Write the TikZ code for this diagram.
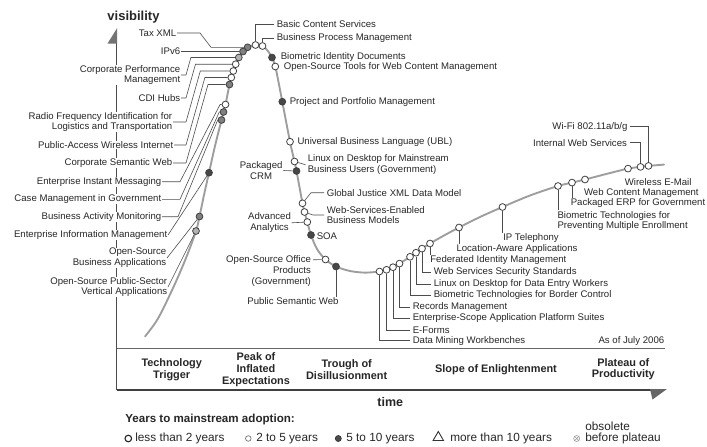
\documentclass[tikz,border=0pt]{standalone}
\usepackage{fontspec}
\setmainfont{Liberation Sans}
\usetikzlibrary{shapes.geometric}
\begin{document}
\begin{tikzpicture}[x=1pt,y=-1pt,
  every node/.style={inner sep=0.6pt, text=black!85},
  lbl/.style={font=\fontsize{9.6}{10.8}\selectfont},
  lft/.style={lbl, anchor=east, align=right, fill=white},
  rgt/.style={lbl, anchor=west, align=left},
  phase/.style={font=\fontsize{10.9}{11.9}\selectfont\bfseries, align=center},
  keytext/.style={font=\fontsize{11.8}{13}\selectfont, anchor=west},
  leader/.style={draw=black!70, line width=0.6pt},
  hype/.style={draw=black!38, line width=1.9pt, line cap=round},
  bub/.style={circle, draw=black!75, line width=0.8pt, minimum size=6.8pt, inner sep=0pt},
  ptW/.style={bub, fill=white},
  ptL/.style={bub, fill=black!30},
  ptM/.style={bub, fill=black!50},
  ptD/.style={bub, fill=black!72},
]
\useasboundingbox (0,0) rectangle (707,447);

% axes and phase band
\draw[black!70, line width=0.9pt] (116.5,43) -- (116.5,390);
\fill[black!55] (117.2,28) -- (117.2,43.5) -- (107.5,43.5) -- cycle;
\draw[black!60, line width=1pt] (116.5,348.3) -- (665,348.3);
\draw[black!75, line width=2pt] (116.5,390) -- (652,390);
\fill[black!60] (650,389) -- (667,389) -- (652.5,399.5) -- cycle;

% points along the hype curve
\coordinate (p00) at (145,336.5);
\coordinate (p01) at (158,318.5);
\coordinate (p02) at (173.5,287);
\coordinate (p03) at (186,258);
\coordinate (k13) at (196,231);
\coordinate (k12) at (199.5,216.5);
\coordinate (p04) at (204,195);
\coordinate (k11) at (209,172.7);
\coordinate (p05) at (215,146);
\coordinate (k10) at (221.5,120);
\coordinate (k09) at (223.5,112);
\coordinate (k08) at (225.5,104.5);
\coordinate (k07) at (229.5,84.5);
\coordinate (k06) at (231.3,77.5);
\coordinate (k05) at (233.3,71);
\coordinate (k04) at (235.7,64.2);
\coordinate (k03) at (238.8,57.5);
\coordinate (k02) at (243,51.5);
\coordinate (k01) at (247.6,47.3);
\coordinate (kBCS) at (255.5,45);
\coordinate (kBPM) at (262.5,46);
\coordinate (p06) at (267.5,50.5);
\coordinate (kBID) at (272,57.5);
\coordinate (kOST) at (275.3,66.5);
\coordinate (p07) at (278.5,82);
\coordinate (kPPM) at (282.3,101.7);
\coordinate (kUBL) at (290,141.7);
\coordinate (kLDM) at (294.5,161.5);
\coordinate (kCRM) at (296.5,171);
\coordinate (kGJX) at (302.5,203.3);
\coordinate (kWSE) at (304.5,212);
\coordinate (kADA) at (307.3,222);
\coordinate (kSOA) at (311,235);
\coordinate (p08) at (317,249);
\coordinate (kOSO) at (325.5,259.5);
\coordinate (kPSW) at (336,266.5);
\coordinate (p09) at (350,271);
\coordinate (p10) at (365,272.6);
\coordinate (kDMW) at (379.5,271.5);
\coordinate (kEFO) at (386.5,269.8);
\coordinate (kESA) at (393,267.2);
\coordinate (kREC) at (399.5,263.6);
\coordinate (kBBC) at (410,256.8);
\coordinate (kLDE) at (416,252.7);
\coordinate (kWSS) at (422,248.6);
\coordinate (kFIM) at (430,243.5);
\coordinate (p11) at (444,235.5);
\coordinate (kLAA) at (459,227.5);
\coordinate (p12) at (480,217);
\coordinate (kIPT) at (502.5,207);
\coordinate (p13) at (530,195.5);
\coordinate (kBME) at (558,186);
\coordinate (kERP) at (572,182.6);
\coordinate (kWCM) at (585,179.5);
\coordinate (p14) at (607,173.8);
\coordinate (kWEM) at (628,168.6);
\coordinate (kIWS) at (640.5,166.9);
\coordinate (kWIF) at (648.5,165.9);
\coordinate (p15) at (664,164.6);

\draw[hype] plot[smooth, tension=0.55] coordinates {
  (p00) (p01) (p02) (p03) (k13) (k12) (p04) (k11) (p05) (k10) (k09) (k08)
  (k07) (k06) (k05) (k04) (k03) (k02) (k01) (kBCS) (kBPM) (p06) (kBID) (kOST)
  (p07) (kPPM) (kUBL) (kLDM) (kCRM) (kGJX) (kWSE) (kADA) (kSOA) (p08) (kOSO)
  (kPSW) (p09) (p10) (kDMW) (kEFO) (kESA) (kREC) (kBBC) (kLDE) (kWSS) (kFIM)
  (p11) (kLAA) (p12) (kIPT) (p13) (kBME) (kERP) (kWCM) (p14) (kWEM) (kIWS)
  (kWIF) (p15)};

% labels on the rising side
\node[lft] (lTAX) at (177,33) {Tax XML};
\node[lft] (lIP6) at (181,51.5) {IPv6};
\node[lft] (lCPM) at (181,75) {Corporate Performance\\Management};
\node[lft] (lCDI) at (181,98) {CDI Hubs};
\node[lft] (lRFI) at (173,122) {Radio Frequency Identification for\\Logistics and Transportation};
\node[lft] (lPAW) at (174,145) {Public-Access Wireless Internet};
\node[lft] (lCSW) at (173,163) {Corporate Semantic Web};
\node[lft] (lEIM) at (162,181.7) {Enterprise Instant Messaging};
\node[lft] (lCMG) at (162,199.3) {Case Management in Government};
\node[lft] (lBAM) at (162,216.7) {Business Activity Monitoring};
\node[lft] (lEIF) at (168,235) {Enterprise Information Management};
\node[lft] (lOSB) at (167,258) {Open-Source\\Business Applications};
\node[lft] (lOSP) at (168,287) {Open-Source Public-Sector\\Vertical Applications};

% labels from the peak onwards
\node[rgt] (lBCS) at (276,24) {Basic Content Services};
\node[rgt] (lBPM) at (276,38.3) {Business Process Management};
\node[rgt] (lBID) at (280,57.3) {Biometric Identity Documents};
\node[rgt] (lOST) at (283,66.7) {Open-Source Tools for Web Content Management};
\node[rgt] (lPPM) at (289,101.7) {Project and Portfolio Management};
\node[rgt] (lUBL) at (296.7,142.3) {Universal Business Language (UBL)};
\node[rgt] (lLDM) at (307,164.7) {Linux on Desktop for Mainstream\\Business Users (Government)};
\node[lbl, anchor=east, align=center] (lCRM) at (283.3,170.5) {Packaged\\CRM};
\node[rgt] (lGJX) at (326,192.7) {Global Justice XML Data Model};
\node[rgt] (lWSE) at (326,215) {Web-Services-Enabled\\Business Models};
\node[lbl, anchor=east, align=center] (lADA) at (291.7,222.8) {Advanced\\Analytics};
\node[rgt] (lSOA) at (316,235.7) {SOA};
\node[lbl, anchor=north east, align=right] (lOSO) at (311.7,255) {Open-Source Office\\Products\\(Government)};
\node[lbl] (lPSW) at (293,301) {Public Semantic Web};
\node[rgt] (lREC) at (412,307) {Records Management};
\node[rgt] (lESA) at (412,318.3) {Enterprise-Scope Application Platform Suites};
\node[rgt] (lEFO) at (412,330) {E-Forms};
\node[rgt] (lDMW) at (412,340.7) {Data Mining Workbenches};
\node[rgt] (lBBC) at (433,295) {Biometric Technologies for Border Control};
\node[rgt] (lLDE) at (433,284) {Linux on Desktop for Data Entry Workers};
\node[rgt] (lWSS) at (433,272.5) {Web Services Security Standards};
\node[rgt] (lFIM) at (429.5,260.5) {Federated Identity Management};
\node[lbl] (lLAA) at (517,249.3) {Location-Aware Applications};
\node[lbl] (lIPT) at (531,238.3) {IP Telephony};
\node[rgt] (lBME) at (556.7,221) {Biometric Technologies for\\Preventing Multiple Enrollment};
\node[rgt] (lERP) at (570,203.3) {Packaged ERP for Government};
\node[rgt] (lWCM) at (583.3,192.7) {Web Content Management};
\node[rgt] (lWEM) at (624,181.7) {Wireless E-Mail};
\node[lbl, anchor=east] (lIWS) at (627.7,142.7) {Internal Web Services};
\node[lbl, anchor=east] (lWIF) at (628.3,126.7) {Wi-Fi 802.11a/b/g};

% technology markers
\node[ptM] (c01) at (k01) {};
\node[ptM] (c02) at (k02) {};
\node[ptL] (c03) at (k03) {};
\node[ptW] (c04) at (k04) {};
\node[ptW] (c05) at (k05) {};
\node[ptW] (c06) at (k06) {};
\node[ptM] (c07) at (k07) {};
\node[ptW] (c08) at (k08) {};
\node[ptM] (c09) at (k09) {};
\node[ptM] (c10) at (k10) {};
\node[ptD] (c11) at (k11) {};
\node[ptM] (c12) at (k12) {};
\node[ptL] (c13) at (k13) {};
\node[ptW] (cBCS) at (kBCS) {};
\node[ptW] (cBPM) at (kBPM) {};
\node[ptD] (cBID) at (kBID) {};
\node[ptW] (cOST) at (kOST) {};
\node[ptD] (cPPM) at (kPPM) {};
\node[ptW] (cUBL) at (kUBL) {};
\node[ptW] (cLDM) at (kLDM) {};
\node[ptD] (cCRM) at (kCRM) {};
\node[ptW] (cGJX) at (kGJX) {};
\node[ptW] (cWSE) at (kWSE) {};
\node[ptW] (cADA) at (kADA) {};
\node[ptD] (cSOA) at (kSOA) {};
\node[ptW] (cOSO) at (kOSO) {};
\node[ptD] (cPSW) at (kPSW) {};
\node[ptW] (cDMW) at (kDMW) {};
\node[ptW] (cEFO) at (kEFO) {};
\node[ptW] (cESA) at (kESA) {};
\node[ptW] (cREC) at (kREC) {};
\node[ptW] (cBBC) at (kBBC) {};
\node[ptW] (cLDE) at (kLDE) {};
\node[ptW] (cWSS) at (kWSS) {};
\node[ptW] (cFIM) at (kFIM) {};
\node[ptW] (cLAA) at (kLAA) {};
\node[ptW] (cIPT) at (kIPT) {};
\node[ptW] (cBME) at (kBME) {};
\node[ptW] (cERP) at (kERP) {};
\node[ptW] (cWCM) at (kWCM) {};
\node[ptW] (cWEM) at (kWEM) {};
\node[ptW] (cIWS) at (kIWS) {};
\node[ptW] (cWIF) at (kWIF) {};

% leader lines, rising side
\draw[leader] (lTAX.east) -- (200,33) -- (211,47.3) -- (c01);
\draw[leader] (lIP6.east) -- (c02);
\draw[leader] (lCPM.east) -- (186,75) -- (190.9,57.5) -- (c03);
\draw[leader] (lCDI.east) -- (186,98) -- (195.5,64.2) -- (c04);
\draw[leader] (lRFI.east) -- (186,122) -- (200.3,71) -- (c05);
\draw[leader] (lPAW.east) -- (186,145) -- (204.9,77.5) -- (c06);
\draw[leader] (lCSW.east) -- (186,163) -- (208,84.5) -- (c07);
\draw[leader] (lEIM.east) -- (180,181.7) -- (220.1,104.5) -- (c08);
\draw[leader] (lCMG.east) -- (180,199.3) -- (219.3,112) -- (c09);
\draw[leader] (lBAM.east) -- (178,216.7) -- (217.7,120) -- (c10);
\draw[leader] (lEIF.east) -- (c11);
\draw[leader] (lOSB.east) -- (c12);
\draw[leader] (lOSP.east) -- (c13);

% leader lines, peak and trough
\draw[leader] (cBCS) -- (kBCS |- lBCS.west) -- ([xshift=-2pt]lBCS.west);
\draw[leader] (cBPM) -- (kBPM |- lBPM.west) -- ([xshift=-2pt]lBPM.west);
\draw[leader] (cLDM) -- ([xshift=-1.5pt]lLDM.west);
\draw[leader] (lCRM.east) -- (cCRM);
\draw[leader] (cGJX) -- (311,192.7) -- ([xshift=-2pt]lGJX.west);
\draw[leader] (cWSE) -- (313,215) -- ([xshift=-2pt]lWSE.west);
\draw[leader] (lADA.east) -- (cADA);
\draw[leader] ([xshift=1.5pt,yshift=-4.8pt]lOSO.north east) -- (cOSO);
\draw[leader] (cPSW) -- (kPSW |- lPSW.north);
\draw[leader] (cDMW) -- (kDMW |- lDMW.west) -- ([xshift=-2pt]lDMW.west);
\draw[leader] (cEFO) -- (kEFO |- lEFO.west) -- ([xshift=-2pt]lEFO.west);
\draw[leader] (cESA) -- (kESA |- lESA.west) -- ([xshift=-2pt]lESA.west);
\draw[leader] (cREC) -- (kREC |- lREC.west) -- ([xshift=-2pt]lREC.west);
\draw[leader] (cBBC) -- (kBBC |- lBBC.west) -- ([xshift=-2pt]lBBC.west);
\draw[leader] (cLDE) -- (kLDE |- lLDE.west) -- ([xshift=-2pt]lLDE.west);
\draw[leader] (cWSS) -- (kWSS |- lWSS.west) -- ([xshift=-2pt]lWSS.west);
\draw[leader] (cFIM) -- (kFIM |- lFIM.north);
\draw[leader] (cLAA) -- (kLAA |- lLAA.north);
\draw[leader] (cIPT) -- (kIPT |- lIPT.north);
\draw[leader] (cBME) -- (kBME |- lBME.north);
\draw[leader] (cERP) -- (kERP |- lERP.north);
\draw[leader] ([xshift=2pt]lIWS.east) -- (kIWS |- lIWS.east) -- (cIWS);
\draw[leader] ([xshift=2pt]lWIF.east) -- (kWIF |- lWIF.east) -- (cWIF);

% axis titles and phases
\node[font=\fontsize{13}{14}\selectfont\bfseries] (vis) at (133.5,17.5) {visibility};
\node[font=\fontsize{12.5}{14}\selectfont\bfseries] (tm) at (390.3,402.5) {time};
\node[lbl, anchor=east] (asof) at (665,341) {As of July 2006};
\node[phase] (phT) at (171.7,369.5) {Technology\\Trigger};
\node[phase] (phP) at (256,369.5) {Peak of\\Inflated\\Expectations};
\node[phase] (phD) at (346.7,370) {Trough of\\Disillusionment};
\node[phase] (phS) at (496,369.3) {Slope of Enlightenment};
\node[phase] (phR) at (623.3,369.2) {Plateau of\\Productivity};

% key
\node[font=\fontsize{11.6}{13}\selectfont\bfseries, anchor=west] (yrs) at (124.5,419.5) {Years to mainstream adoption:};
\node[circle, draw=black!85, line width=1.1pt, fill=white, minimum size=6.6pt, inner sep=0pt] (keyA) at (128.3,438.5) {};
\node[keytext] (keyAt) at (134.5,438.5) {less than 2 years};
\node[circle, draw=black!55, line width=0.7pt, fill=white, minimum size=5.6pt, inner sep=0pt] (keyB) at (248.3,438.5) {};
\node[keytext] (keyBt) at (255.5,438.5) {2 to 5 years};
\node[circle, draw=black!80, line width=0.7pt, fill=black!70, minimum size=6pt, inner sep=0pt] (keyC) at (338.3,438.5) {};
\node[keytext] (keyCt) at (345.5,438.5) {5 to 10 years};
\node[regular polygon, regular polygon sides=3, draw=black!80, line width=0.9pt, minimum size=12pt, inner sep=0pt] (keyD) at (438.3,437.5) {};
\node[keytext] (keyDt) at (449.5,438.5) {more than 10 years};
\node[circle, draw=black!40, line width=0.6pt, minimum size=6pt, inner sep=0pt] (keyE) at (576.7,438.5) {};
\draw[black!40, line width=0.5pt] (keyE.north west) -- (keyE.south east) (keyE.north east) -- (keyE.south west);
\node[keytext] (keyEa) at (584.5,426.5) {obsolete};
\node[keytext] (keyEt) at (584.5,438.5) {before plateau};
\end{tikzpicture}
\end{document}
